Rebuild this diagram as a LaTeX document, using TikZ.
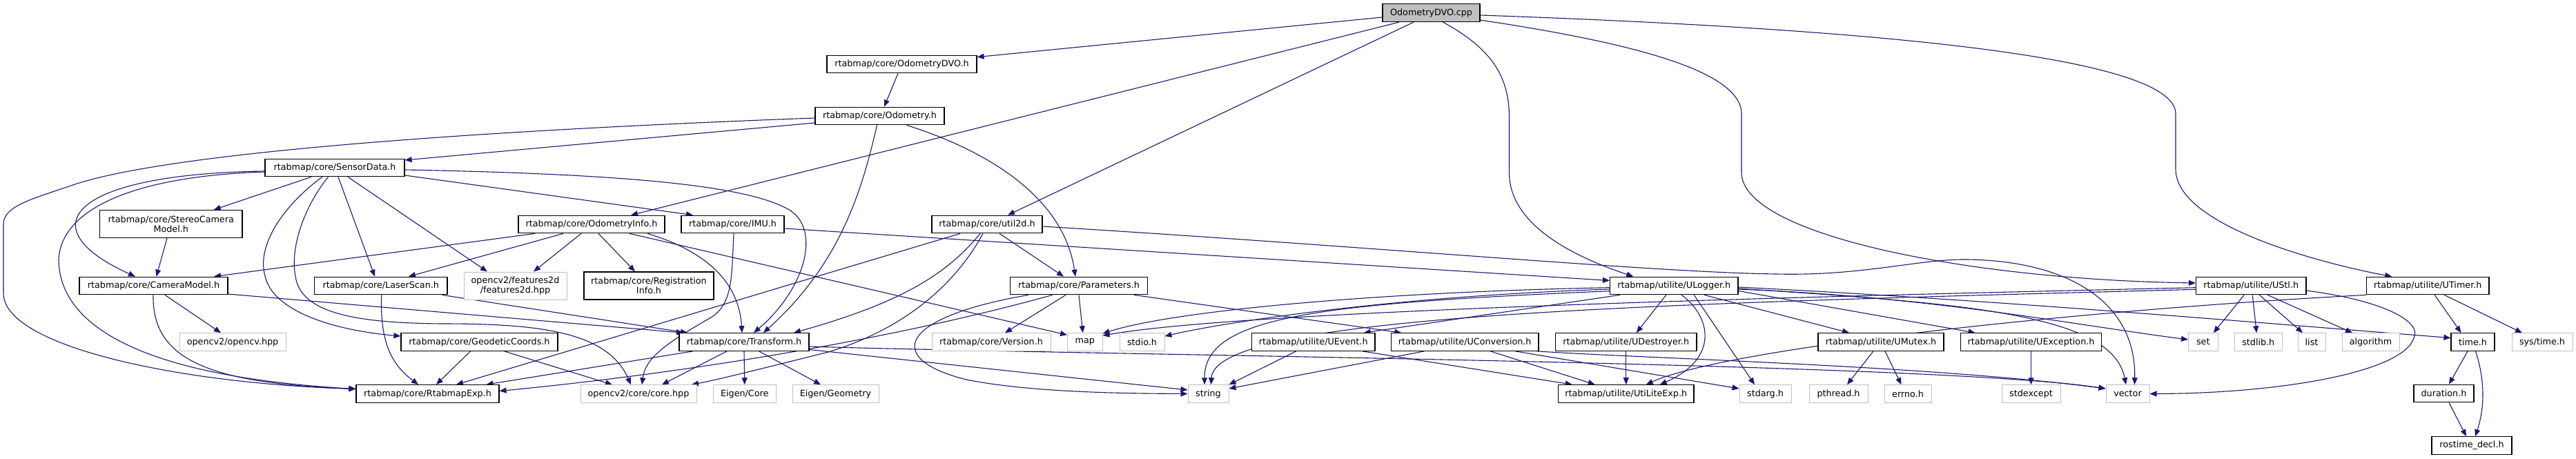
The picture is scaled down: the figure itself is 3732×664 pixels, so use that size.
\documentclass[tikz,border=0pt]{standalone}
\usepackage{fontspec}
\setmainfont{DejaVu Sans}
\usetikzlibrary{arrows.meta,backgrounds}
\definecolor{edgec}{HTML}{191970}
\definecolor{grayb}{HTML}{BFBFBF}
\begin{document}
\begin{tikzpicture}[x=1pt,y=-1pt,
  font=\fontsize{12.75pt}{14pt}\selectfont,
  box/.style={draw=black,line width=1.2pt,fill=white,inner sep=0pt,minimum height=25.5pt,text=black},
  ext/.style={draw=grayb,line width=1pt,fill=white,inner sep=0pt,minimum height=25.5pt,text=black},
  root/.style={box,fill=grayb},
  dbl/.style={minimum height=40pt,align=center},
  edge/.style={draw=edgec,line width=1.1pt,-{Triangle[length=10pt,width=8pt]}}]
\useasboundingbox (0,0) rectangle (3732,664);
% ---------- nodes ----------
\node[root,minimum width=141pt,minimum height=26pt] (cpp) at (2073.5,18.5) {OdometryDVO.cpp};
\node[box,minimum width=217pt] (dvoh) at (1306.5,93) {rtabmap/core/OdometryDVO.h};
\node[box,minimum width=187pt] (odo) at (1274.5,168) {rtabmap/core/Odometry.h};
\node[box,minimum width=202pt] (sensor) at (485,243) {rtabmap/core/SensorData.h};
\node[box,dbl,minimum width=206.5pt] (stereo) at (247.75,324.5) {rtabmap/core/StereoCamera\\Model.h};
\node[box,minimum width=212pt] (odoinfo) at (857,325) {rtabmap/core/OdometryInfo.h};
\node[box,minimum width=149pt] (imu) at (1061.5,325) {rtabmap/core/IMU.h};
\node[box,minimum width=160pt] (util2d) at (1430,325) {rtabmap/core/util2d.h};
\node[box,minimum width=215pt] (cam) at (222.5,414) {rtabmap/core/CameraModel.h};
\node[box,minimum width=192.5pt] (laser) at (551.75,414) {rtabmap/core/LaserScan.h};
\node[ext,dbl,minimum width=149pt] (feat) at (746.5,414) {opencv2/features2d\\/features2d.hpp};
\node[box,dbl,minimum width=188pt] (reg) at (940,414) {rtabmap/core/Registration\\Info.h};
\node[box,minimum width=199pt] (params) at (1563,414) {rtabmap/core/Parameters.h};
\node[box,minimum width=185.5pt] (ulog) at (2425.25,414) {rtabmap/utilite/ULogger.h};
\node[box,minimum width=159.5pt] (ustl) at (3261.25,414) {rtabmap/utilite/UStl.h};
\node[box,minimum width=177.5pt] (utimer) at (3517.25,414) {rtabmap/utilite/UTimer.h};
\node[ext,minimum width=154pt] (ocv) at (337,495.5) {opencv2/opencv.hpp};
\node[box,minimum width=227pt] (geo) at (694.5,495.5) {rtabmap/core/GeodeticCoords.h};
\node[box,minimum width=188pt] (tf) at (1078,495.5) {rtabmap/core/Transform.h};
\node[ext,minimum width=172pt] (ver) at (1436,495.5) {rtabmap/core/Version.h};
\node[ext,minimum width=50.5pt] (mapn) at (1571.75,495.5) {map};
\node[ext,minimum width=65pt] (stdio) at (1654.5,495.5) {stdio.h};
\node[box,minimum width=178.5pt] (uevent) at (1902.75,495.5) {rtabmap/utilite/UEvent.h};
\node[box,minimum width=213.5pt] (uconv) at (2122.25,495.5) {rtabmap/utilite/UConversion.h};
\node[box,minimum width=204.5pt] (udest) at (2355.75,495.5) {rtabmap/utilite/UDestroyer.h};
\node[box,minimum width=182pt] (umutex) at (2725,495.5) {rtabmap/utilite/UMutex.h};
\node[box,minimum width=204pt] (uexc) at (2942.5,495.5) {rtabmap/utilite/UException.h};
\node[ext,minimum width=42.5pt] (setn) at (3191.75,495.5) {set};
\node[ext,minimum width=68.5pt] (stdlib) at (3271.75,495.5) {stdlib.h};
\node[ext,minimum width=40pt] (listn) at (3349,495.5) {list};
\node[ext,minimum width=83pt] (algo) at (3434.5,495.5) {algorithm};
\node[box,minimum width=63pt] (timeh) at (3582.5,495.5) {time.h};
\node[ext,minimum width=88pt] (systime) at (3683,495.5) {sys/time.h};
\node[box,minimum width=207pt] (rexp) at (619.5,570.5) {rtabmap/core/RtabmapExp.h};
\node[ext,minimum width=168pt] (core) at (925,570.5) {opencv2/core/core.hpp};
\node[ext,minimum width=91.5pt] (ecore) at (1078.75,570.5) {Eigen/Core};
\node[ext,minimum width=125pt] (egeo) at (1210.5,570.5) {Eigen/Geometry};
\node[ext,minimum width=59pt] (stringn) at (1750.5,570.5) {string};
\node[box,minimum width=196.5pt] (ulexp) at (2355.75,570.5) {rtabmap/utilite/UtiLiteExp.h};
\node[ext,minimum width=75pt] (stdarg) at (2557.5,570.5) {stdarg.h};
\node[ext,minimum width=85pt] (pthread) at (2663.5,570.5) {pthread.h};
\node[ext,minimum width=68pt] (errno) at (2764,570.5) {errno.h};
\node[ext,minimum width=85pt] (stdexc) at (2942.5,570.5) {stdexcept};
\node[ext,minimum width=63pt] (vectorn) at (3082.5,570.5) {vector};
\node[box,minimum width=87pt] (dur) at (3540.5,570) {duration.h};
\node[box,minimum width=116pt] (ros) at (3581,645.5) {rostime\_decl.h};
% ---------- edges ----------
\begin{scope}[on background layer]
% OdometryDVO.cpp
\draw[edge] ([yshift=-6.5pt]cpp.west) -- ([yshift=-3pt]dvoh.north east);
\draw[edge] ([xshift=-46.5pt]cpp.south) -- ([xshift=57pt]odoinfo.north);
\draw[edge] ([xshift=-25.5pt]cpp.south) -- ([xshift=30pt]util2d.north);
\draw[edge] ([xshift=17pt]cpp.south) .. controls (2160,70) and (2186.5,110) .. (2186.5,170) -- (2186.5,250) .. controls (2186.5,330) and (2290,375) .. ([xshift=-59pt]ulog.north);
\draw[edge] ([yshift=-3.5pt]cpp.east) .. controls (2800,45) and (3152,90) .. (3152,165) -- (3152,245) .. controls (3152,330) and (3380,385) .. ([xshift=-52pt]utimer.north);
\draw[edge] ([yshift=-10.5pt]cpp.east) .. controls (2350,60) and (2523,100) .. (2523,165) -- (2523,250) .. controls (2523,340) and (2850,405) .. ([yshift=4pt]ustl.west);
% OdometryDVO.h
\draw[edge] ([xshift=-5.5pt]dvoh.south) -- ([xshift=6.5pt]odo.north);
% Odometry.h
\draw[edge] ([yshift=-10pt]odo.west) -- ([yshift=11pt]sensor.east);
\draw[edge] ([yshift=-3pt]odo.west) .. controls (800,185) and (250,215) .. (100,270) .. controls (40,290) and (5,300) .. (5,325) -- (5,425) .. controls (5,500) and (250,555) .. ([yshift=7pt]rexp.west);
\draw[edge] ([xshift=-4pt]odo.south) .. controls (1250,270) and (1220,380) .. ([xshift=28pt]tf.north);
\draw[edge] ([xshift=39pt]odo.south) .. controls (1420,215) and (1540,280) .. ([xshift=-5pt]params.north);
% SensorData.h
\draw[edge] ([xshift=-34pt]sensor.south) -- ([xshift=62pt]stereo.north);
\draw[edge] ([yshift=-5pt]sensor.west) .. controls (100,252) and (40,330) .. ([xshift=-26.5pt]cam.north);
\draw[edge] ([yshift=-6pt]sensor.west) .. controls (200,255) and (90,300) .. (85,375) .. controls (85,470) and (200,545) .. ([yshift=7pt]rexp.west);
\draw[edge] ([xshift=-18pt]sensor.south) .. controls (420,290) and (370,350) .. (384,400) .. controls (395,450) and (480,478) .. ([yshift=8.5pt]geo.west);
\draw[edge] ([xshift=-9.5pt]sensor.south) .. controls (440,300) and (420,360) .. (428,400) .. controls (435,455) and (520,468) .. (640,469) .. controls (780,469) and (880,480) .. ([xshift=-11pt]core.north);
\draw[edge] ([xshift=5pt]sensor.south) -- ([xshift=-8.75pt]laser.north);
\draw[edge] ([xshift=19pt]sensor.south) -- ([xshift=-40.5pt]feat.north);
\draw[edge] ([yshift=-3pt]sensor.east) .. controls (900,252) and (1085,268) .. (1145,305) .. controls (1190,335) and (1165,420) .. ([xshift=14pt]tf.north);
\draw[edge] ([yshift=-11pt]sensor.east) -- ([xshift=-57.5pt]imu.north);
% StereoCameraModel.h
\draw[edge] ([xshift=-5.75pt]stereo.south) -- ([xshift=4pt]cam.north);
% OdometryInfo.h
\draw[edge] ([xshift=-82pt]odoinfo.south) -- ([xshift=87.5pt]cam.north);
\draw[edge] ([xshift=-41pt]odoinfo.south) -- ([xshift=40.25pt]laser.north);
\draw[edge] ([xshift=-15pt]odoinfo.south) -- ([xshift=26.5pt]feat.north);
\draw[edge] ([xshift=10pt]odoinfo.south) -- ([xshift=-20pt]reg.north);
\draw[edge] ([xshift=81pt]odoinfo.south) .. controls (1010,360) and (1070,400) .. ([xshift=-3pt]tf.north);
\draw[edge] ([xshift=55pt]odoinfo.south) -- ([yshift=-3pt]mapn.north west);
% IMU.h
\draw[edge] ([xshift=1.5pt]imu.south) .. controls (1060,400) and (1062,440) .. (1030,460) .. controls (960,500) and (935,520) .. ([xshift=5pt]core.north);
\draw[edge] ([yshift=-6pt]imu.east) -- ([yshift=7.5pt]ulog.west);
% util2d.h
\draw[edge] ([xshift=18pt]util2d.south) -- ([xshift=-22pt]params.north);
\draw[edge] ([xshift=-39pt]util2d.south) -- ([xshift=41.5pt]rexp.north);
\draw[edge] ([xshift=-10pt]util2d.south) .. controls (1370,400) and (1300,440) .. ([xshift=72pt]tf.north);
\draw[edge] ([xshift=-6pt]util2d.south) .. controls (1380,420) and (1300,480) .. (1200,510) .. controls (1100,535) and (1040,550) .. ([xshift=77pt]core.north);
\draw[edge] ([yshift=-3pt]util2d.east) .. controls (2000,358) and (2400,395) .. (2574,397) .. controls (2700,400) and (2780,375) .. (2850,376) .. controls (3000,378) and (3095,440) .. ([xshift=10pt]vectorn.north);
% Parameters.h
\draw[edge] ([xshift=-73pt]params.south) .. controls (1300,460) and (1280,520) .. (1400,550) .. controls (1500,570) and (1650,570) .. (stringn.west);
\draw[edge] ([xshift=-38.3pt]params.south) .. controls (1300,490) and (1000,540) .. ([yshift=4pt]rexp.east);
\draw[edge] ([xshift=-19pt]params.south) -- ([xshift=20pt]ver.north);
\draw[edge] (params.south) -- ([xshift=-3pt]mapn.north);
\draw[edge] ([xshift=80pt]params.south) -- ([xshift=-92pt]uconv.north);
% CameraModel.h
\draw[edge] ([xshift=16.5pt]cam.south) -- ([xshift=-17pt]ocv.north);
\draw[edge] ([xshift=-0.5pt]cam.south) .. controls (220,520) and (300,555) .. ([yshift=7pt]rexp.west);
\draw[edge] ([yshift=-12pt]cam.east) -- ([xshift=-88pt]tf.north);
% LaserScan.h
\draw[edge] ([xshift=1pt]laser.south) .. controls (550,500) and (570,530) .. ([xshift=-13.5pt]rexp.north);
\draw[edge] ([xshift=-8pt]laser.south east) -- ([xshift=-82pt]tf.north);
% GeodeticCoords.h
\draw[edge] ([xshift=-13pt]geo.south) -- ([xshift=12.5pt]rexp.north);
\draw[edge] ([xshift=36pt]geo.south) -- ([xshift=-38pt]core.north);
% Transform.h
\draw[edge] ([xshift=-74pt]tf.south) -- ([xshift=85pt]rexp.north);
\draw[edge] ([xshift=-25pt]tf.south) -- ([xshift=34pt]core.north);
\draw[edge] (tf.south) -- (ecore.north);
\draw[edge] ([xshift=21.5pt]tf.south) -- ([xshift=-21.5pt]egeo.north);
\draw[edge] ([yshift=-11pt]tf.east) -- ([yshift=5.5pt]stringn.west);
\draw[edge] ([yshift=-6.5pt]tf.east) .. controls (1600,515) and (2800,525) .. ([yshift=7.5pt]vectorn.west);
% ULogger.h
\draw[edge] ([yshift=-2.7pt]ulog.west) .. controls (2000,423) and (1700,450) .. ([yshift=-1pt]mapn.north east);
\draw[edge] ([yshift=-5pt]ulog.west) .. controls (2000,430) and (1760,470) .. ([yshift=8.5pt]stdio.east);
\draw[edge] ([yshift=-7.7pt]ulog.west) .. controls (1900,440) and (1745,460) .. ([xshift=-5.5pt]stringn.north);
\draw[edge] ([xshift=-78.5pt]ulog.south) -- ([xshift=73pt]uevent.north);
\draw[edge] ([xshift=-11.5pt]ulog.south) -- ([xshift=15pt]udest.north);
\draw[edge] ([xshift=11pt]ulog.south) .. controls (2480,460) and (2490,520) .. ([xshift=49pt]ulexp.north);
\draw[edge] ([xshift=29pt]ulog.south) -- ([xshift=-15.5pt]stdarg.north);
\draw[edge] ([xshift=44pt]ulog.south) -- ([xshift=-46pt]umutex.north);
\draw[edge] ([yshift=-7.5pt]ulog.east) -- ([xshift=-81pt]uexc.north);
\draw[edge] ([yshift=-5pt]ulog.east) .. controls (2800,430) and (3000,470) .. ([yshift=3.5pt]setn.west);
\draw[edge] ([yshift=-2pt]ulog.east) .. controls (2900,435) and (3300,470) .. ([yshift=6pt]timeh.west);
\draw[edge] ([yshift=-4pt]ulog.east) .. controls (2850,440) and (3060,455) .. ([xshift=-2.5pt]vectorn.north);
% UStl.h
\draw[edge] ([yshift=-2.7pt]ustl.west) .. controls (2600,430) and (1800,450) .. ([yshift=-4pt]mapn.north east);
\draw[edge] ([yshift=-5.3pt]ustl.west) .. controls (2400,440) and (1760,455) .. ([xshift=4pt]stringn.north);
\draw[edge] ([xshift=-10pt]ustl.south) -- ([xshift=15pt]setn.north);
\draw[edge] ([xshift=2pt]ustl.south) -- ([xshift=-2.5pt]stdlib.north);
\draw[edge] ([xshift=12pt]ustl.south) -- ([xshift=-13pt]listn.north);
\draw[edge] ([xshift=24pt]ustl.south) -- ([xshift=-26.5pt]algo.north);
\draw[edge] ([yshift=-7pt]ustl.east) .. controls (3450,435) and (3510,465) .. (3497,490) .. controls (3480,540) and (3300,570) .. (vectorn.east);
% UTimer.h
\draw[edge] ([xshift=10pt]utimer.south) -- ([xshift=-17pt]timeh.north);
\draw[edge] ([xshift=24pt]utimer.south) -- ([xshift=-29pt]systime.north);
\draw[edge] (utimer.south west) .. controls (3000,450) and (2500,505) .. ([xshift=29pt]ulexp.north);
% UEvent.h
\draw[edge] ([xshift=-25pt]uevent.south) -- (stringn.north east);
\draw[edge] ([xshift=71pt]uevent.south) -- ([xshift=-78pt]ulexp.north);
% UConversion.h
\draw[edge] ([xshift=-59pt]uconv.south) -- ([yshift=7.5pt]stringn.east);
\draw[edge] ([xshift=37pt]uconv.south) -- ([xshift=-45pt]ulexp.north);
\draw[edge] ([xshift=73pt]uconv.south) -- ([yshift=7.5pt]stdarg.west);
\draw[edge] ([xshift=104pt]uconv.south) .. controls (2400,520) and (2800,530) .. ([yshift=7.5pt]vectorn.west);
% others
\draw[edge] (udest.south) -- (ulexp.north);
\draw[edge] ([xshift=-11pt]umutex.south) -- ([xshift=12.5pt]pthread.north);
\draw[edge] ([xshift=6pt]umutex.south) -- ([xshift=-9.5pt]errno.north);
\draw[edge] (uexc.south) -- (stdexc.north);
\draw[edge] ([xshift=-7.5pt]timeh.south) -- ([xshift=7.5pt]dur.north);
\draw[edge] ([xshift=4pt]timeh.south) .. controls (3600,550) and (3600,590) .. ([xshift=5pt]ros.north);
\draw[edge] ([xshift=7.5pt]dur.south) -- ([xshift=-8pt]ros.north);
\end{scope}
\end{tikzpicture}
\end{document}
